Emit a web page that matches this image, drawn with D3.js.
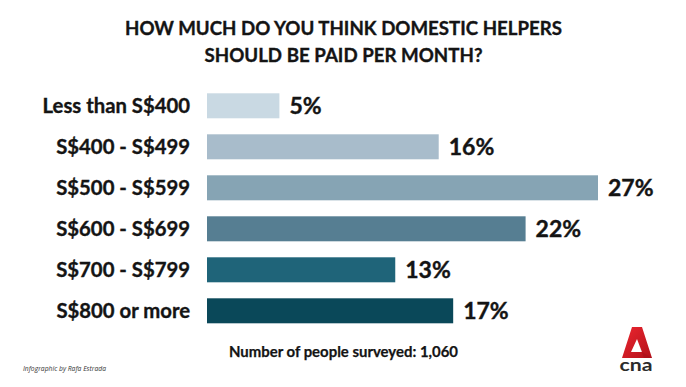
<!DOCTYPE html>
<html>
<head>
<meta charset="utf-8">
<script src="https://cdn.jsdelivr.net/npm/d3@7/dist/d3.min.js"></script>
<style>
  html, body { margin: 0; padding: 0; background: #ffffff; }
  svg { display: block; }
</style>
</head>
<body>
<svg id="chart" width="686" height="387"></svg>
<script>
// ---- data ----
const categories = ["Less than S$400", "S$400 - S$499", "S$500 - S$599", "S$600 - S$699", "S$700 - S$799", "S$800 or more"];
const values = [5, 16, 27, 22, 13, 17];
const barColors = ["#c9d9e3", "#a8bccb", "#86a4b4", "#567e92", "#1f6479", "#0a4859"];
const titleLines = ["HOW MUCH DO YOU THINK DOMESTIC HELPERS", "SHOULD BE PAID PER MONTH?"];
const footnote = "Number of people surveyed: 1,060";
const credit = "Infographic by Rafa Estrada";

const svg = d3.select("#chart");
const FONT = "Lato, 'Open Sans', sans-serif";
const INK = "#141414";

const x = d3.scaleLinear().domain([0, d3.max(values)]).range([207, 598]);
const y = d3.scaleBand().domain(categories).range([93.3, 323.3]).paddingInner(16 / 41).paddingOuter(0);
const color = d3.scaleOrdinal().domain(categories).range(barColors);

// title
svg.append("g").selectAll("text").data(titleLines).join("text")
  .attr("x", 343.5)
  .attr("y", (d, i) => 35 + i * 26.5)
  .attr("text-anchor", "middle")
  .attr("font-family", FONT)
  .attr("font-weight", 700)
  .attr("font-size", 18.5)
  .attr("fill", INK)
  .attr("stroke", INK).attr("stroke-width", 0.35)
  .attr("textLength", (d, i) => i === 0 ? 437 : 278)
  .attr("lengthAdjust", "spacingAndGlyphs")
  .text(d => d);

const data = categories.map((c, i) => ({ c, v: values[i] }));

// bars
svg.append("g").selectAll("rect").data(data).join("rect")
  .attr("x", x(0))
  .attr("y", d => y(d.c))
  .attr("width", d => x(d.v) - x(0))
  .attr("height", y.bandwidth())
  .attr("fill", d => color(d.c));

// category axis labels
const yAxis = d3.axisLeft(y).tickSize(0).tickPadding(0);
const gy = svg.append("g").attr("transform", `translate(190,0)`).call(yAxis);
gy.select(".domain").remove();
gy.selectAll("text")
  .attr("font-family", FONT)
  .attr("font-weight", 700)
  .attr("font-size", 20.3)
  .attr("fill", INK)
  .attr("stroke", INK).attr("stroke-width", 0.35)
  .attr("dy", "0.36em");

// value labels
svg.append("g").selectAll("text").data(data).join("text")
  .attr("x", d => x(d.v) + 10)
  .attr("y", d => y(d.c) + y.bandwidth() / 2)
  .attr("dy", "0.37em")
  .attr("font-family", FONT)
  .attr("font-weight", 700)
  .attr("font-size", 23)
  .attr("fill", INK)
  .attr("stroke", INK).attr("stroke-width", 0.4)
  .text(d => d.v + "%");

// footnote
svg.append("text")
  .attr("x", 343.5).attr("y", 356.5)
  .attr("text-anchor", "middle")
  .attr("font-family", FONT)
  .attr("font-weight", 700)
  .attr("font-size", 15)
  .attr("fill", INK)
  .attr("stroke", INK).attr("stroke-width", 0.25)
  .attr("textLength", 229)
  .attr("lengthAdjust", "spacingAndGlyphs")
  .text(footnote);

// credit
svg.append("text")
  .attr("x", 23).attr("y", 370.5)
  .attr("font-family", "'Open Sans', sans-serif")
  .attr("font-style", "italic")
  .attr("font-size", 8)
  .attr("fill", "#333")
  .attr("textLength", 83)
  .attr("lengthAdjust", "spacingAndGlyphs")
  .text(credit);

// CNA logo
const defs = svg.append("defs");
const grad = defs.append("linearGradient").attr("id", "cnaRed").attr("x1", 0).attr("y1", 0).attr("x2", 1).attr("y2", 1);
grad.append("stop").attr("offset", "0%").attr("stop-color", "#ec2630");
grad.append("stop").attr("offset", "100%").attr("stop-color", "#b3111a");
const logo = svg.append("g");
logo.append("path")
  .attr("fill-rule", "evenodd")
  .attr("d", "M632,327 L642,327 L652,358 L622,358 Z M637,339 L631,352 L642,352 Z")
  .attr("fill", "url(#cnaRed)");
logo.append("path")
  .attr("d", "M642,352 L652,358 L644,358 L637,339 Z")
  .attr("fill", "#a80f18")
  .attr("opacity", 0.55);
logo.append("text")
  .attr("x", 636).attr("y", 371)
  .attr("text-anchor", "middle")
  .attr("font-family", FONT)
  .attr("font-weight", 700)
  .attr("font-size", 17)
  .attr("fill", "#2b2b2b")
  .attr("textLength", 33)
  .attr("lengthAdjust", "spacingAndGlyphs")
  .text("cna");
</script>
</body>
</html>
